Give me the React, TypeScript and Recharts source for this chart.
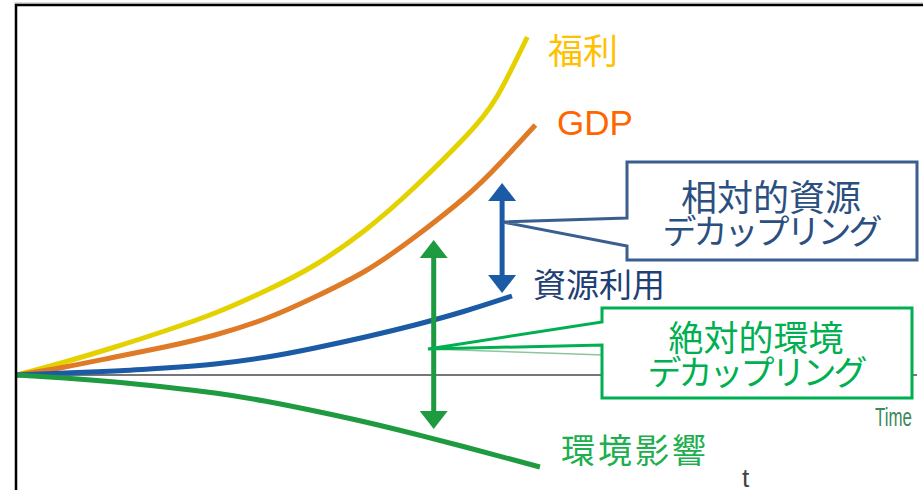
import React from "react";
import { LineChart, Line, XAxis, YAxis, ReferenceLine, ReferenceDot } from "recharts";

// Time units (0..100) and index values (baseline = 0)
const welfare = [
  { t: 0, v: 0 }, { t: 5.3, v: 13 }, { t: 10.9, v: 28 }, { t: 16.4, v: 44 }, { t: 22, v: 62 },
  { t: 27.8, v: 85 }, { t: 33.1, v: 110 }, { t: 38.7, v: 145 }, { t: 44.2, v: 188 },
  { t: 49.8, v: 238 }, { t: 53.3, v: 278 }, { t: 56.7, v: 338 },
];
const gdp = [
  { t: 0, v: 0 }, { t: 5.3, v: 8 }, { t: 10.9, v: 18 }, { t: 16.4, v: 28 }, { t: 22, v: 40 },
  { t: 27.8, v: 57 }, { t: 33.1, v: 78 }, { t: 38.7, v: 104 }, { t: 44.2, v: 138 },
  { t: 49.8, v: 178 }, { t: 53.7, v: 212 }, { t: 57.6, v: 250 },
];
const resourceUse = [
  { t: 0, v: 0 }, { t: 5.3, v: 2 }, { t: 10.9, v: 4 }, { t: 16.4, v: 7 }, { t: 22, v: 11 },
  { t: 27.8, v: 18 }, { t: 33.1, v: 27 }, { t: 38.7, v: 38 }, { t: 44.2, v: 50 },
  { t: 49.8, v: 64 }, { t: 55, v: 79 },
];
const envImpact = [
  { t: 0, v: 0 }, { t: 5.3, v: -3 }, { t: 10.9, v: -7 }, { t: 16.4, v: -12 }, { t: 22, v: -18 },
  { t: 27.5, v: -26 }, { t: 33.1, v: -36 }, { t: 38.7, v: -47 }, { t: 44.2, v: -59 },
  { t: 49.8, v: -72 }, { t: 58.1, v: -92 },
];

// Decoupling arrows: time position and the span (low, high) they mark
const relativeArrow = { t: 53.9, low: 82, high: 192 };
const absoluteArrow = { t: 46.3, low: -54, high: 135 };

const labels = {
  welfare: "福利",
  gdp: "GDP",
  resource: "資源利用",
  impact: "環境影響",
  relative: ["相対的資源", "デカップリング"],
  absolute: ["絶対的環境", "デカップリング"],
  time: "Time",
};

const C = {
  yellow: "#E4D200",
  orange: "#DF7A26",
  blue: "#1B5AA5",
  green: "#1E9A40",
  blueBox: "#3A5F8E",
  blueText: "#2B4F80",
  greenBox: "#00B050",
  greenText: "#00B050",
};

const JP = '"Noto Sans CJK JP", "Noto Sans", sans-serif';

const upHead = (color: string) => (p: any) => (
  <path d={`M${p.cx},${p.cy} L${p.cx - 14},${p.cy + 18} L${p.cx + 14},${p.cy + 18} Z`} fill={color} />
);
const downHead = (color: string) => (p: any) => (
  <path d={`M${p.cx},${p.cy} L${p.cx - 14},${p.cy - 18} L${p.cx + 14},${p.cy - 18} Z`} fill={color} />
);

export default function App() {
  return (
    <div style={{ position: "absolute", left: 0, top: 0, width: 923, height: 490, background: "#fff", overflow: "hidden" }}>
      <LineChart width={923} height={490} margin={{ top: 0, right: 6, bottom: 0, left: 17 }}>
        <XAxis type="number" dataKey="t" domain={[0, 100]} hide allowDataOverflow />
        <YAxis type="number" domain={[-115, 375]} hide allowDataOverflow />
        <ReferenceLine y={0} stroke="#777" strokeWidth={2} />
        <Line data={welfare} dataKey="v" type="natural" stroke={C.yellow} strokeWidth={5} dot={false} isAnimationActive={false} />
        <Line data={gdp} dataKey="v" type="natural" stroke={C.orange} strokeWidth={5} dot={false} isAnimationActive={false} />
        <Line data={resourceUse} dataKey="v" type="natural" stroke={C.blue} strokeWidth={5} dot={false} isAnimationActive={false} />
        <Line data={envImpact} dataKey="v" type="natural" stroke={C.green} strokeWidth={5} dot={false} isAnimationActive={false} />
        <ReferenceLine
          segment={[{ x: relativeArrow.t, y: relativeArrow.low + 10 }, { x: relativeArrow.t, y: relativeArrow.high - 10 }]}
          stroke={C.blue} strokeWidth={5}
        />
        <ReferenceDot x={relativeArrow.t} y={relativeArrow.high} shape={upHead(C.blue)} />
        <ReferenceDot x={relativeArrow.t} y={relativeArrow.low} shape={downHead(C.blue)} />
        <ReferenceLine
          segment={[{ x: absoluteArrow.t, y: absoluteArrow.low + 10 }, { x: absoluteArrow.t, y: absoluteArrow.high - 10 }]}
          stroke={C.green} strokeWidth={5}
        />
        <ReferenceDot x={absoluteArrow.t} y={absoluteArrow.high} shape={upHead(C.green)} />
        <ReferenceDot x={absoluteArrow.t} y={absoluteArrow.low} shape={downHead(C.green)} />
      </LineChart>
      <svg width={923} height={490} style={{ position: "absolute", left: 0, top: 0, pointerEvents: "none" }}>
        {/* frame */}
        <line x1={14} y1={3} x2={923} y2={3} stroke="#bbb" strokeWidth={1} />
        <line x1={15} y1={5} x2={923} y2={5} stroke="#000" strokeWidth={2.5} />
        <line x1={16} y1={4} x2={16} y2={490} stroke="#000" strokeWidth={2.5} />

        {/* faint line from green pointer */}
        <line x1={430} y1={349} x2={604} y2={355} stroke="#8CC79C" strokeWidth={1.5} />

        {/* relative decoupling callout */}
        <polygon
          points="627,162 917,162 917,260 627,260 627,246 503,222 627,218"
          fill="#fff" stroke={C.blueBox} strokeWidth={3} strokeLinejoin="miter"
        />
        <text x={771} y={211} textAnchor="middle" fontFamily={JP} fontSize={36} fill={C.blueText}>{labels.relative[0]}</text>
        <text x={771} y={244} textAnchor="middle" fontFamily={JP} fontSize={34} letterSpacing={-3} fill={C.blueText}>{labels.relative[1]}</text>

        {/* absolute decoupling callout */}
        <polygon
          points="602,308 912,308 912,398 602,398 602,345 428,349 602,322"
          fill="#fff" stroke={C.greenBox} strokeWidth={3} strokeLinejoin="miter"
        />
        <text x={756} y={351} textAnchor="middle" fontFamily={JP} fontSize={35} fill={C.greenText}>{labels.absolute[0]}</text>
        <text x={756} y={385} textAnchor="middle" fontFamily={JP} fontSize={34} letterSpacing={-3} fill={C.greenText}>{labels.absolute[1]}</text>

        {/* series labels */}
        <text x={548} y={64} fontFamily={JP} fontSize={35} fill="#FFC000">{labels.welfare}</text>
        <text x={557} y={135} fontFamily='"Liberation Sans", Arial, sans-serif' fontSize={35} fill="#FF6600">{labels.gdp}</text>
        <text x={533} y={297} fontFamily={JP} fontSize={33} fill="#1F3F75">{labels.resource}</text>
        <text x={561} y={463} fontFamily={JP} fontSize={34} letterSpacing={3} fill="#1DAE4E">{labels.impact}</text>

        {/* axis label */}
        <text x={875} y={426} fontFamily='"Liberation Sans Narrow", "Liberation Sans", sans-serif' fontSize={25}
          textLength={37} lengthAdjust="spacingAndGlyphs" fill="#3A8A5A">{labels.time}</text>
        <text x={742} y={487} fontFamily='"Liberation Sans", sans-serif' fontSize={26} fill="#444">t</text>
      </svg>
    </div>
  );
}
